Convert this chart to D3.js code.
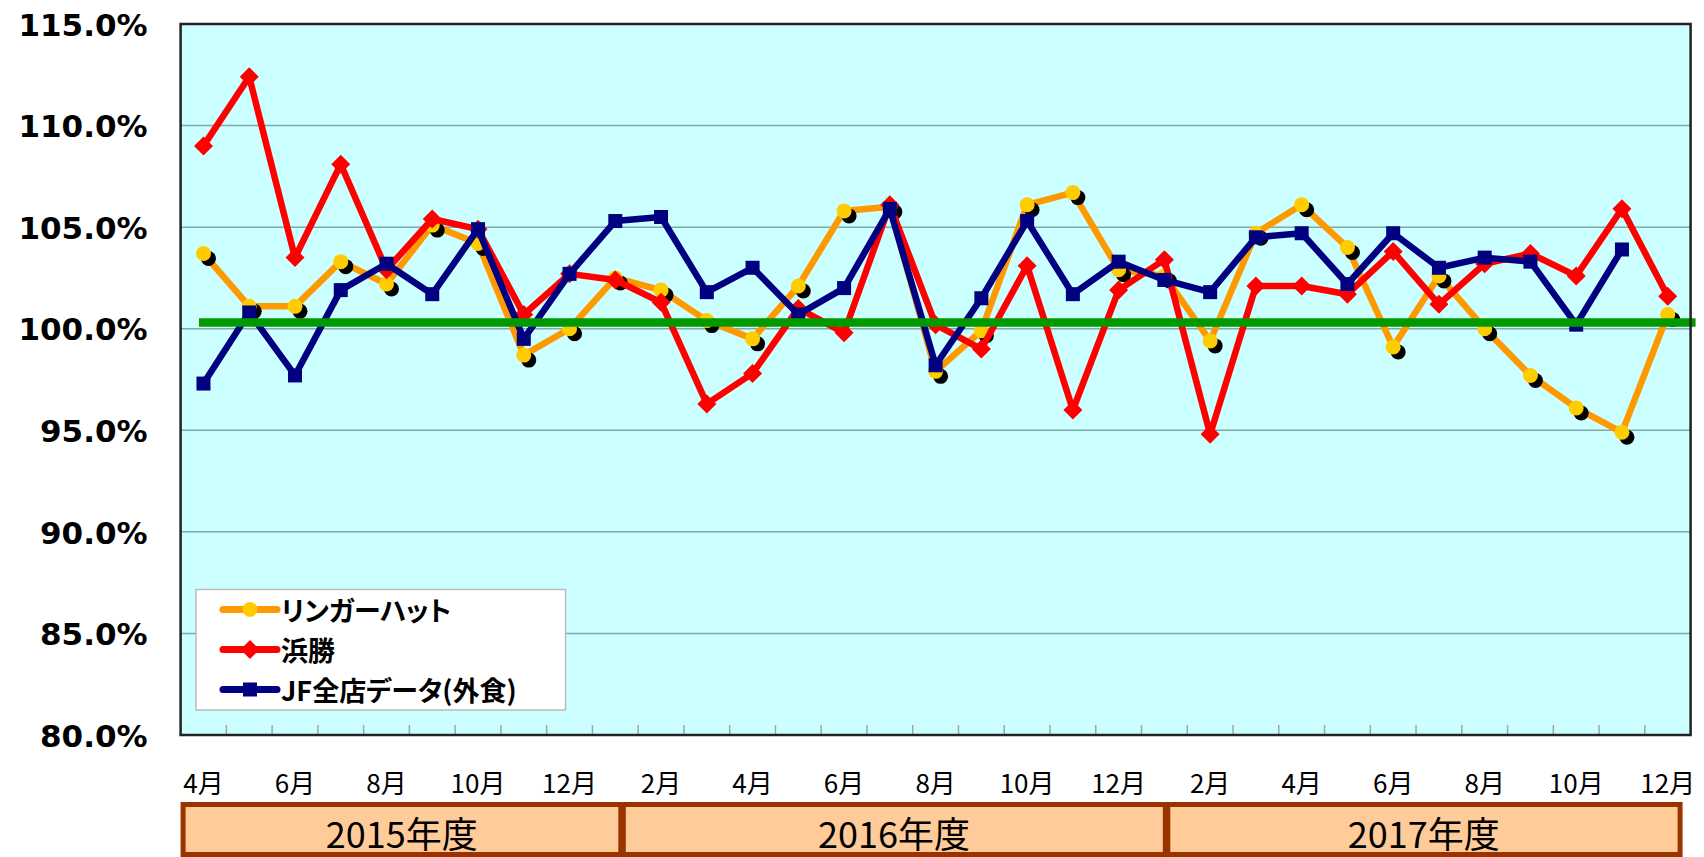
<!DOCTYPE html>
<html>
<head>
<meta charset="utf-8">
<title>既存店売上高 前年比</title>
<script src="https://d3js.org/d3.v7.min.js"></script>
<style type="text/css">
body{ margin:0; background:#fff; }
.y-label text{ font-family:"DejaVu Sans",Verdana,sans-serif; font-weight:bold; font-size:31px; fill:#000; }
.x-label{ font-family:"Noto Sans CJK JP",sans-serif; font-size:26px; fill:#000; }
.year-label{ font-family:"Noto Sans CJK JP",sans-serif; font-size:36px; fill:#000; }
.legend-text{ font-family:"Noto Sans CJK JP",sans-serif; font-weight:bold; font-size:27px; fill:#000; font-feature-settings:"palt"; }
.grid{ stroke:#80a9a9; stroke-width:1.5; }
.tick-mark{ stroke:#9aa; stroke-width:1.5; }
.series{ fill:none; stroke-width:6.5; stroke-linejoin:round; stroke-linecap:round; }
</style>
</head>
<body>
<script>
// months from 2015/4 to 2017/12
var months = ['4月','5月','6月','7月','8月','9月','10月','11月','12月',
	'1月','2月','3月','4月','5月','6月','7月','8月','9月','10月','11月','12月',
	'1月','2月','3月','4月','5月','6月','7月','8月','9月','10月','11月','12月'];

var ringerhut = [103.7, 101.1, 101.1, 103.3, 102.2, 105.1, 104.2, 98.7, 100.0,
	102.5, 101.9, 100.4, 99.5, 102.1, 105.8, 106.0, 97.9, 99.9, 106.1, 106.7, 102.9,
	102.6, 99.4, 104.7, 106.1, 104.0, 99.1, 102.6, 100.0, 97.7, 96.1, 94.9, 100.7];

var hamakatsu = [109.0, 112.4, 103.5, 108.1, 102.9, 105.4, 104.9, 100.7, 102.7,
	102.4, 101.3, 96.3, 97.8, 101.0, 99.8, 106.1, 100.2, 99.0, 103.1, 96.0, 101.9,
	103.4, 94.8, 102.1, 102.1, 101.7, 103.8, 101.2, 103.2, 103.7, 102.6, 105.9, 101.6];

var jfAll = [97.3, 100.8, 97.7, 101.9, 103.2, 101.7, 104.9, 99.5, 102.7,
	105.3, 105.5, 101.8, 103.0, 100.7, 102.0, 105.9, 98.2, 101.5, 105.3, 101.7, 103.3,
	102.4, 101.8, 104.5, 104.7, 102.2, 104.7, 103.0, 103.5, 103.3, 100.2, 103.9];

var baseline = 100.3;

var yTicks = [80, 85, 90, 95, 100, 105, 110, 115];

// fiscal year boxes, in month-index units
var yearNames = ['2015年度', '2016年度', '2017年度'];
var yearStart = [0, 9.62, 21.52];
var yearEnd = [9.62, 21.52, 32.77];

var W = 1704, H = 857,
	plotL = 180.6, plotR = 1690.6, plotT = 24, plotB = 735;

var svg = d3.select('body').append('svg').attr('width', W).attr('height', H);

var x = d3.scaleBand().domain(d3.range(months.length)).range([plotL, plotR]).padding(0),
	bw = x.bandwidth(),
	xc = function(i){ return x(i) + bw / 2; },
	xu = d3.scaleLinear().domain([0, months.length]).range([plotL, plotR]),
	y = d3.scaleLinear().domain([80, 115]).range([plotB, plotT]);

// plot background
svg.append('rect').attr('x', plotL).attr('y', plotT).attr('width', plotR - plotL).attr('height', plotB - plotT)
	.attr('fill', '#ccffff');

svg.append('g').selectAll('line').data(yTicks.slice(1, -1)).enter().append('line')
	.attr('class', 'grid')
	.attr('x1', plotL).attr('x2', plotR)
	.attr('y1', function(d){ return y(d); }).attr('y2', function(d){ return y(d); });

// category tick marks along the bottom
svg.append('g').selectAll('line').data(d3.range(1, months.length)).enter().append('line')
	.attr('class', 'tick-mark')
	.attr('x1', function(d){ return x(d); }).attr('x2', function(d){ return x(d); })
	.attr('y1', plotB).attr('y2', plotB - 10);

// y axis labels
var yAxis = d3.axisLeft(y).tickValues(yTicks).tickSize(0).tickPadding(33)
	.tickFormat(function(d){ return d3.format('.1f')(d) + '%'; });
svg.append('g').attr('class', 'y-label').attr('transform', 'translate(' + plotL + ',0)').call(yAxis)
	.call(function(g){ g.select('.domain').remove(); })
	.selectAll('text').attr('dy', '0.36em');

// x labels, every other month
svg.append('g').selectAll('text').data(months).enter()
	.filter(function(d, i){ return i % 2 === 0; })
	.append('text')
	.attr('class', 'x-label')
	.attr('x', function(d, i){ return xc(i * 2); })
	.attr('y', 781)
	.attr('text-anchor', 'middle')
	.attr('dominant-baseline', 'central')
	.text(function(d){ return d; });

// fiscal year boxes
var years = svg.append('g').selectAll('g').data(yearNames).enter().append('g');
years.append('rect')
	.attr('x', function(d, i){ return xu(yearStart[i]) + 2.5; })
	.attr('width', function(d, i){ return xu(yearEnd[i]) - xu(yearStart[i]) - 2.5; })
	.attr('y', 804.5).attr('height', 50)
	.attr('fill', '#ffcc99').attr('stroke', '#993300').attr('stroke-width', 5);
years.append('text')
	.attr('class', 'year-label')
	.attr('x', function(d, i){ return (xu(yearStart[i]) + xu(yearEnd[i])) / 2 + 1; })
	.attr('y', 832)
	.attr('text-anchor', 'middle')
	.attr('dominant-baseline', 'central')
	.text(function(d){ return d; });

var line = d3.line().x(function(d, i){ return xc(i); }).y(function(d){ return y(d); });

var diamond = 'M0,-9.5L9.5,0L0,9.5L-9.5,0Z';

// リンガーハット
var plot = svg.append('g');
plot.append('path').attr('class', 'series').attr('stroke', '#ff9900').attr('d', line(ringerhut));
plot.append('g').selectAll('circle').data(ringerhut).enter().append('circle')
	.attr('cx', function(d, i){ return xc(i) + 5; }).attr('cy', function(d){ return y(d) + 5; })
	.attr('r', 7.5).attr('fill', '#000');
plot.append('g').selectAll('circle').data(ringerhut).enter().append('circle')
	.attr('cx', function(d, i){ return xc(i); }).attr('cy', function(d){ return y(d); })
	.attr('r', 7.5).attr('fill', '#ffcc00');

// 浜勝
plot.append('path').attr('class', 'series').attr('stroke', '#ff0000').attr('stroke-width', 7).attr('d', line(hamakatsu));
plot.append('g').selectAll('path').data(hamakatsu).enter().append('path')
	.attr('d', diamond).attr('fill', '#ff0000')
	.attr('transform', function(d, i){ return 'translate(' + xc(i) + ',' + y(d) + ')'; });

// JF全店データ(外食)
plot.append('path').attr('class', 'series').attr('stroke', '#000080').attr('d', line(jfAll));
plot.append('g').selectAll('rect').data(jfAll).enter().append('rect')
	.attr('x', function(d, i){ return xc(i) - 7; }).attr('y', function(d){ return y(d) - 7; })
	.attr('width', 14).attr('height', 14).attr('fill', '#000080');

// 100% reference line
svg.append('line')
	.attr('x1', xc(0) - 4.5).attr('x2', plotR + 5)
	.attr('y1', y(baseline)).attr('y2', y(baseline))
	.attr('stroke', '#009900').attr('stroke-width', 8.5);

// plot frame
svg.append('rect').attr('x', plotL).attr('y', plotT).attr('width', plotR - plotL).attr('height', plotB - plotT)
	.attr('fill', 'none').attr('stroke', '#222').attr('stroke-width', 2.5);

// legend
var legendItems = [
	{name:'リンガーハット', color:'#ff9900', marker:'#ffcc00', shape:'circle'},
	{name:'浜勝', color:'#ff0000', marker:'#ff0000', shape:'diamond'},
	{name:'JF全店データ(外食)', color:'#000080', marker:'#000080', shape:'square'}
];
var legend = svg.append('g');
legend.append('rect').attr('x', 196).attr('y', 589.5).attr('width', 369.5).attr('height', 120.5)
	.attr('fill', '#fff').attr('stroke', '#bbb').attr('stroke-width', 1.5);
var li = legend.selectAll('g.item').data(legendItems).enter().append('g')
	.attr('transform', function(d, i){ return 'translate(0,' + (609.5 + i * 40) + ')'; });
li.append('line').attr('x1', 223).attr('x2', 277).attr('y1', 0).attr('y2', 0)
	.attr('stroke', function(d){ return d.color; }).attr('stroke-width', 7).attr('stroke-linecap', 'round');
li.each(function(d){
	var g = d3.select(this);
	if (d.shape === 'circle') g.append('circle').attr('cx', 250).attr('r', 7.5).attr('fill', d.marker);
	else if (d.shape === 'diamond') g.append('path').attr('d', diamond).attr('transform', 'translate(250,0)').attr('fill', d.marker);
	else g.append('rect').attr('x', 243).attr('y', -7).attr('width', 14).attr('height', 14).attr('fill', d.marker);
});
li.append('text').attr('class', 'legend-text').attr('x', 281).attr('y', 0)
	.attr('dominant-baseline', 'central')
	.text(function(d){ return d.name; });
</script>
</body>
</html>
